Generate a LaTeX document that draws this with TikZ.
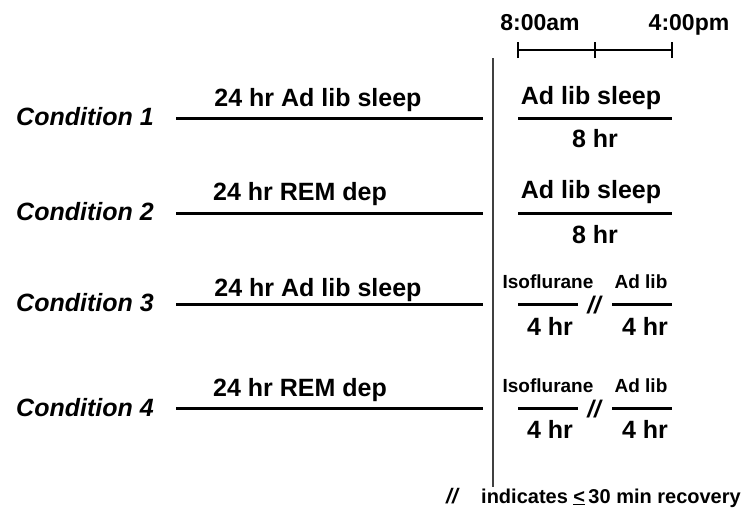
\documentclass[tikz,border=0pt]{standalone}
\usepackage{fontspec}
\newfontfamily\arl{Liberation Sans}
\begin{document}
\begin{tikzpicture}[x=1pt,y=-1pt,
  lbl/.style={inner sep=0pt,anchor=base,font=\arl\bfseries\fontsize{25}{28}\selectfont},
  cond/.style={inner sep=0pt,anchor=base west,font=\arl\bfseries\itshape\fontsize{25}{28}\selectfont},
  small/.style={inner sep=0pt,anchor=base,font=\arl\bfseries\fontsize{19}{22}\selectfont},
  time/.style={inner sep=0pt,anchor=base,font=\arl\bfseries\fontsize{23}{26}\selectfont},
  brk/.style={inner sep=0pt,anchor=base,font=\arl\bfseries\itshape\fontsize{24}{26}\selectfont},
  bar/.style={line width=3pt},
  tl/.style={line width=1.6pt},
  tick/.style={line width=2.6pt},
  vline/.style={line width=1.4pt,black!75}]
\useasboundingbox (0,0) rectangle (747,520);
\fill[white] (0,0) rectangle (747,520);

% timeline
\coordinate (t0) at (518,50);
\coordinate (t1) at (595,50);
\coordinate (t2) at (672,50);
\draw[tl] (t0) -- (t2);
\foreach \t in {t0,t1,t2} \draw[tick] ([yshift=-8pt]\t) -- ([yshift=8pt]\t);
\node[time] (am) at (540,30) {8:00am};
\node[time] (pm) at (689,30) {4:00pm};

% vertical divider
\coordinate (vtop) at (493,58);
\coordinate (vbot) at (493,487);
\draw[vline] (vtop) -- (vbot);

% Condition 1
\node[cond] (c1) at (16,125) {Condition 1};
\coordinate (a1) at (176,118); \coordinate (b1) at (483,118);
\draw[bar] (a1) -- (b1);
\node[lbl] (l1) at (318,106) {24 hr Ad lib sleep};
\coordinate (r1a) at (518,118); \coordinate (r1b) at (672,118);
\draw[bar] (r1a) -- (r1b);
\node[lbl] (s1) at (591,104) {Ad lib sleep};
\node[lbl] (h1) at (595,147) {8 hr};

% Condition 2
\node[cond] (c2) at (16,220) {Condition 2};
\coordinate (a2) at (176,213); \coordinate (b2) at (483,213);
\draw[bar] (a2) -- (b2);
\node[lbl] (l2) at (300,200) {24 hr REM dep};
\coordinate (r2a) at (518,213); \coordinate (r2b) at (672,213);
\draw[bar] (r2a) -- (r2b);
\node[lbl] (s2) at (591,198) {Ad lib sleep};
\node[lbl] (h2) at (595,243) {8 hr};

% Condition 3
\node[cond] (c3) at (16,311) {Condition 3};
\coordinate (a3) at (176,304); \coordinate (b3) at (483,304);
\draw[bar] (a3) -- (b3);
\node[lbl] (l3) at (318,296) {24 hr Ad lib sleep};
\coordinate (p3a) at (518,304); \coordinate (p3b) at (578,304);
\coordinate (q3a) at (612,304); \coordinate (q3b) at (672,304);
\draw[bar] (p3a) -- (p3b);
\draw[bar] (q3a) -- (q3b);
\node[small] (i3) at (548,288) {Isoflurane};
\node[small] (d3) at (641,288) {Ad lib};
\node[lbl] (f3) at (550,335) {4 hr};
\node[lbl] (g3) at (645,335) {4 hr};
\node[brk] (x3) at (594,313) {//};

% Condition 4
\node[cond] (c4) at (16,416) {Condition 4};
\coordinate (a4) at (176,408); \coordinate (b4) at (483,408);
\draw[bar] (a4) -- (b4);
\node[lbl] (l4) at (300,396) {24 hr REM dep};
\coordinate (p4a) at (518,408); \coordinate (p4b) at (578,408);
\coordinate (q4a) at (612,408); \coordinate (q4b) at (672,408);
\draw[bar] (p4a) -- (p4b);
\draw[bar] (q4a) -- (q4b);
\node[small] (i4) at (548,392) {Isoflurane};
\node[small] (d4) at (641,392) {Ad lib};
\node[lbl] (f4) at (550,438) {4 hr};
\node[lbl] (g4) at (645,438) {4 hr};
\node[brk] (x4) at (594,417) {//};

% footnote
\node[brk,anchor=base west,font=\arl\bfseries\itshape\fontsize{21}{23}\selectfont] (fx) at (446,503) {//};
\node[small,anchor=base west,font=\arl\bfseries\fontsize{20}{23}\selectfont] (fn) at (481,503) {indicates \underline{<}\,30 min recovery};
\end{tikzpicture}
\end{document}
